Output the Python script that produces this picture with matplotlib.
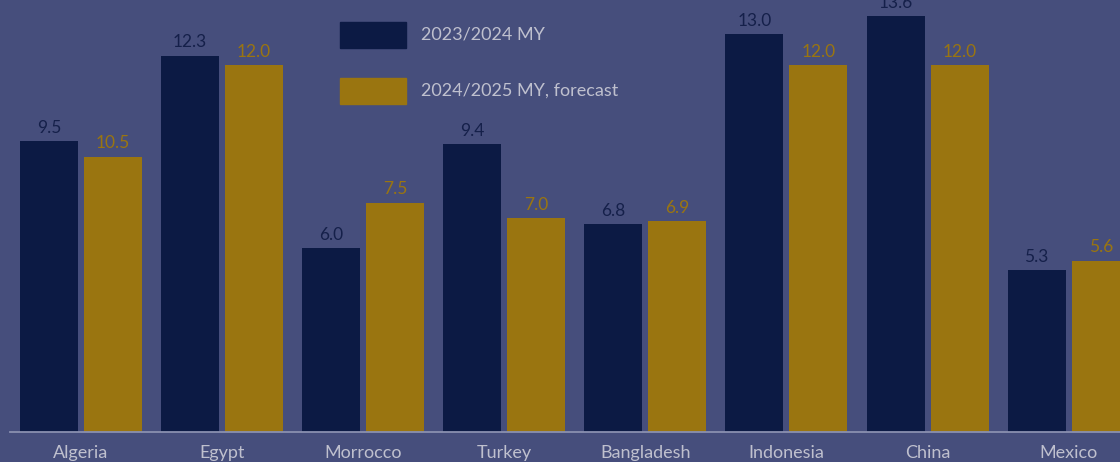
import matplotlib.pyplot as plt
from matplotlib.patches import Rectangle
import numpy as np

# data (bar heights as drawn in the picture; labels as printed)
countries = ["Algeria", "Egypt", "Morrocco", "Turkey", "Bangladesh", "Indonesia", "China", "Mexico"]
my_2023 = [9.5, 12.3, 6.0, 9.4, 6.8, 13.0, 13.6, 5.3]
my_2024 = [9.0, 12.0, 7.5, 7.0, 6.9, 12.0, 12.0, 5.6]
labels_2023 = ["9.5", "12.3", "6.0", "9.4", "6.8", "13.0", "13.6", "5.3"]
labels_2024 = ["10.5", "12.0", "7.5", "7.0", "6.9", "12.0", "12.0", "5.6"]
series_names = ["2023/2024 MY", "2024/2025 MY, forecast"]

bg = "#464E7C"
navy = "#0C1A44"
gold = "#9A7510"
label_grey = "#BFC0CE"

plt.rcParams['font.family'] = ['Lato', 'DejaVu Sans']

W, H = 1120, 462
fig = plt.figure(figsize=(W / 100, H / 100), dpi=100, facecolor=bg)
ax = fig.add_axes([10 / W, 30 / H, 1110 / W, 432 / H])
ax.set_facecolor(bg)

x = np.arange(len(countries))
pitch = 141.1
w = 58 / pitch
off = 32 / pitch
b1 = ax.bar(x - off, my_2023, w, color=navy)
b2 = ax.bar(x + off, my_2024, w, color=gold)

# value labels
for xi, v, t in zip(x, my_2023, labels_2023):
    ax.annotate(t, (xi - off, v), xytext=(0, 9.5), textcoords="offset points",
                ha="center", va="center", color="#15204A", fontsize=12.5, annotation_clip=False)
for xi, v, t in zip(x, my_2024, labels_2024):
    ax.annotate(t, (xi + off, v), xytext=(0, 9.5), textcoords="offset points",
                ha="center", va="center", color=gold, fontsize=12.5, annotation_clip=False)

ax.set_xlim((10 - 81) / pitch, (1120 - 81) / pitch)
ax.set_ylim(0, 432 / 30.6)
ax.set_xticks(x)
ax.set_xticklabels(countries, color=label_grey, fontsize=13)
ax.tick_params(axis="x", length=0, pad=9.5)
ax.set_yticks([])
for s in ["top", "right", "left"]:
    ax.spines[s].set_visible(False)
ax.spines["bottom"].set_color("#8A90B0")
ax.spines["bottom"].set_linewidth(1.3)

# legend drawn by hand
for i, (name, col) in enumerate(zip(series_names, [navy, gold])):
    top = 22 + 56 * i
    fig.patches.append(Rectangle((340 / W, 1 - (top + 26) / H), 66 / W, 26 / H,
                                 transform=fig.transFigure, color=col))
    fig.text(421 / W, 1 - (top + 13) / H, name, color=label_grey, fontsize=13,
             ha="left", va="center")

fig.savefig("out.png", dpi=100, facecolor=bg)
